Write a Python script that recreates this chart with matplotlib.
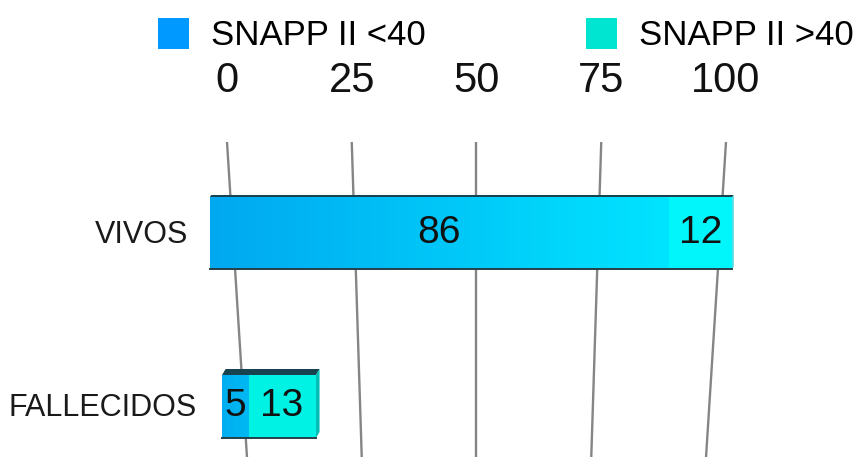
import matplotlib
matplotlib.use("Agg")
import matplotlib.pyplot as plt
import numpy as np
from matplotlib.patches import Polygon, Patch
from matplotlib.colors import LinearSegmentedColormap

# data
categories = ["VIVOS", "FALLECIDOS"]
series_names = ["SNAPP II <40", "SNAPP II >40"]
low_vals = [86, 5]     # SNAPP II <40
high_vals = [12, 13]   # SNAPP II >40
ticks = [0, 25, 50, 75, 100]

plt.rcParams['font.family'] = ['Liberation Sans', 'DejaVu Sans']

W, H = 861, 457
fig = plt.figure(figsize=(W / 100, H / 100), dpi=100)


def full_xlim(x0, scale):
    """xlim for a figure-wide axes where value v lands at pixel x0 + scale * v"""
    return (-x0 / scale, (W - x0) / scale)


# back wall: gridlines in perspective
ax = fig.add_axes([0, 0, 1, 1])
ax.set_xlim(full_xlim(227, 4.99))
ax.set_ylim(H, 0)
ax.axis("off")
grid_top, grid_bot = 142, H
for v in ticks:
    ax.plot([v, 4 + 0.92 * v], [grid_top, grid_bot], color="#858585", lw=1.7,
            solid_capstyle="butt", zorder=1)
    ax.text(v, 81, str(v), ha="center", va="center", fontsize=30, color="#111111")

# legend
legend_cols = ["#0099ff", "#00e5d1"]
handles = [Patch(facecolor=c, edgecolor="none", label=n) for c, n in zip(legend_cols, series_names)]
fig.legend(handles=handles, loc="center left", bbox_to_anchor=(158 / W, 1 - 35 / H),
           ncol=2, frameon=False, fontsize=25, handlelength=0.9, handleheight=0.98,
           handletextpad=0.62, columnspacing=4.62, borderpad=0, borderaxespad=0)

# bars: each row gets its own axes so the front faces follow the perspective
row_y = [233, 406.5]
row_h = [72, 63]
row_x0 = [210, 222]
row_scale = [5.33, 5.22]
row_depth = [2, 6]
label_right = [188, 197]
low_grad = [("#00a8f0", "#00e4ff"), ("#00aef0", "#00b8f2")]
high_cols = ["#00f6fb", "#00f2e4"]
side_cols = ["#00c8d8", "#00bdb8"]

for i, cat in enumerate(categories):
    bax = fig.add_axes([0, 0, 1, 1])
    bax.patch.set_alpha(0)
    bax.axis("off")
    xlim = full_xlim(row_x0[i], row_scale[i])
    y, h = row_y[i], row_h[i]
    total = low_vals[i] + high_vals[i]
    d = row_depth[i]
    dx = d * 0.6 / row_scale[i]

    # top face and side face
    top = Polygon([(0, y - h / 2), (total, y - h / 2), (total + dx, y - h / 2 - d),
                   (dx, y - h / 2 - d)], closed=True, facecolor="#17424f", edgecolor="none", zorder=2)
    side = Polygon([(total, y - h / 2), (total + dx, y - h / 2 - d), (total + dx, y + h / 2 - d),
                    (total, y + h / 2)], closed=True, facecolor=side_cols[i], edgecolor="none", zorder=2)
    bax.add_patch(top)
    bax.add_patch(side)

    b1 = bax.barh(y, low_vals[i], left=0, height=h, color=low_grad[i][0], zorder=3)[0]
    cmap = LinearSegmentedColormap.from_list("g%d" % i, low_grad[i])
    im = bax.imshow(np.linspace(0, 1, 256).reshape(1, -1), cmap=cmap, aspect="auto",
                    extent=[0, low_vals[i], y + h / 2, y - h / 2], zorder=3.5)
    im.set_clip_path(b1)
    bax.barh(y, high_vals[i], left=low_vals[i], height=h, color=high_cols[i], zorder=3)
    # dark rim along the bottom edge
    bax.plot([0, total], [y + h / 2, y + h / 2], color="#25404a", lw=1.4, zorder=4)

    bax.text(low_vals[i] / 2, y, str(low_vals[i]), ha="center", va="center",
             fontsize=28, color="#111111", zorder=5)
    bax.text(low_vals[i] + high_vals[i] / 2, y, str(high_vals[i]), ha="center", va="center",
             fontsize=28, color="#111111", zorder=5)
    bax.text((label_right[i] - row_x0[i]) / row_scale[i], y + 2, cat, ha="right", va="center",
             fontsize=22, color="#1a1a1a")
    bax.set_xlim(xlim)
    bax.set_ylim(H, 0)

fig.savefig("out.png", dpi=100)
